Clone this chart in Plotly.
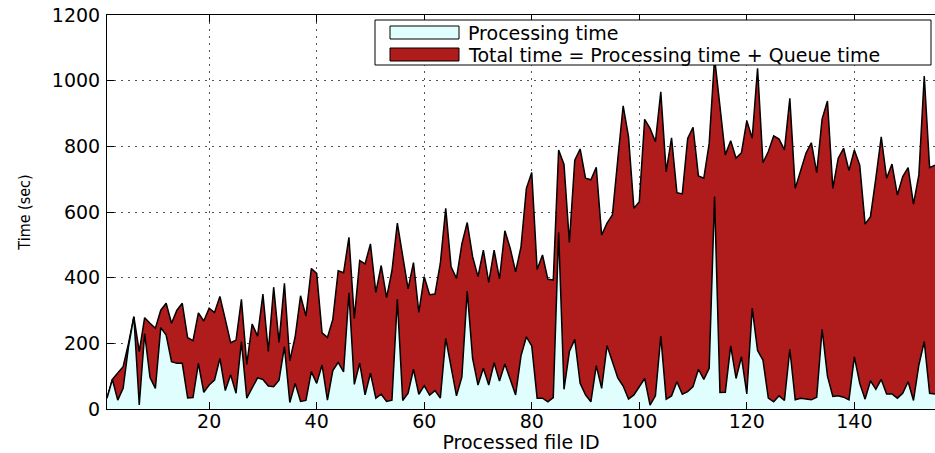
import plotly.graph_objects as go

# ---------------- data ----------------
file_id = list(range(1, 156))

total_time = [
    33, 90, 110, 129, 200, 281, 175, 278, 261, 246,
    301, 322, 261, 301, 322, 217, 208, 293, 268, 307,
    294, 343, 273, 202, 210, 334, 136, 259, 222, 350,
    175, 371, 203, 383, 147, 220, 345, 283, 428, 413,
    232, 218, 273, 421, 415, 523, 276, 452, 442, 503,
    355, 437, 339, 421, 566, 466, 366, 446, 294, 403,
    348, 350, 444, 611, 433, 398, 503, 568, 464, 403,
    484, 386, 484, 396, 543, 489, 418, 494, 672, 720,
    425, 469, 395, 393, 789, 745, 507, 758, 792, 703,
    698, 736, 530, 566, 591, 760, 923, 829, 611, 631,
    882, 855, 814, 966, 723, 826, 659, 655, 824, 858,
    710, 703, 809, 1070, 920, 774, 817, 764, 780, 878,
    825, 1038, 750, 784, 832, 822, 789, 946, 672, 723,
    779, 811, 720, 883, 938, 672, 764, 794, 726, 789,
    743, 563, 586, 703, 829, 703, 746, 652, 708, 735,
    624, 713, 1014, 735, 743,
]

processing_time = [
    33, 90, 27, 63, 190, 281, 12, 230, 96, 63,
    248, 225, 144, 139, 139, 34, 35, 139, 51, 73,
    88, 154, 56, 104, 48, 205, 33, 63, 95, 90,
    70, 68, 88, 190, 20, 78, 23, 26, 114, 78,
    134, 27, 117, 142, 113, 354, 75, 140, 43, 109,
    33, 45, 23, 27, 334, 26, 48, 121, 45, 71,
    42, 56, 33, 215, 121, 40, 97, 359, 154, 73,
    124, 73, 141, 85, 137, 90, 43, 162, 220, 192,
    33, 33, 22, 35, 538, 60, 175, 212, 78, 43,
    22, 132, 63, 193, 144, 95, 70, 30, 43, 68,
    93, 12, 40, 222, 30, 40, 83, 45, 53, 68,
    121, 90, 124, 647, 50, 51, 192, 93, 159, 46,
    307, 178, 149, 33, 22, 40, 26, 182, 28, 33,
    30, 28, 36, 243, 100, 38, 40, 36, 28, 159,
    78, 30, 86, 60, 90, 46, 46, 33, 48, 83,
    26, 134, 205, 48, 46,
]

x_ticks = [20, 40, 60, 80, 100, 120, 140]
y_ticks = [0, 200, 400, 600, 800, 1000, 1200]

legend_labels = ["Processing time", "Total time = Processing time + Queue time"]

RED = "#B01B1B"
CYAN = "#E1FEFE"
FONT = "DejaVu Sans, Liberation Sans, Arial, sans-serif"
GRID_DASH = "1.5px,5.5px"

# ---------------- figure ----------------
fig = go.Figure()
fig.add_trace(go.Scatter(
    x=file_id, y=total_time, mode="lines", fill="tozeroy",
    fillcolor=RED, line=dict(color="black", width=1.5),
    showlegend=False, hoverinfo="skip",
))
fig.add_trace(go.Scatter(
    x=file_id, y=processing_time, mode="lines", fill="tozeroy",
    fillcolor=CYAN, line=dict(color="black", width=1.5),
    showlegend=False, hoverinfo="skip",
))

W, H = 935, 453
L, T, R, B = 107, 15, 0, 44
pw, ph = W - L - R, H - T - B


def px(xp):
    return (xp - L) / pw


def py(yp):
    return (H - B - yp) / ph


fig.update_layout(
    width=W, height=H,
    margin=dict(l=L, r=R, t=T, b=B, pad=0),
    paper_bgcolor="white", plot_bgcolor="white",
    font=dict(family=FONT, size=19, color="black"),
    showlegend=False,
    xaxis=dict(
        range=[1, 155], tickvals=x_ticks, ticks="inside", ticklen=7,
        tickcolor="black", showline=True, linecolor="black", linewidth=1,
        mirror="ticks", showgrid=True, gridcolor="#555555", griddash=GRID_DASH,
        gridwidth=1, zeroline=False, ticklabelstandoff=-5,
        tickfont=dict(family=FONT, size=19),
        title=dict(text="Processed file ID", font=dict(family=FONT, size=19), standoff=1),
        automargin=False,
    ),
    yaxis=dict(
        range=[0, 1200], tickvals=y_ticks, ticks="inside", ticklen=7,
        tickcolor="black", showline=True, linecolor="black", linewidth=1,
        mirror=False, showgrid=True, gridcolor="#555555", griddash=GRID_DASH,
        gridwidth=1, zeroline=False, ticklabelstandoff=2,
        tickfont=dict(family=FONT, size=19),
        title=dict(text="Time (sec)", standoff=17,
                   font=dict(family="Liberation Sans Narrow, DejaVu Sans Condensed, Liberation Sans, sans-serif", size=16)),
        automargin=False,
    ),
)

# custom MATLAB-style legend box
shapes = [
    dict(type="rect", xref="paper", yref="paper",
         x0=px(375), x1=px(931), y0=py(65), y1=py(20),
         fillcolor="white", line=dict(color="black", width=1), layer="above"),
    dict(type="rect", xref="paper", yref="paper",
         x0=px(390), x1=px(459), y0=py(39), y1=py(26),
         fillcolor=CYAN, line=dict(color="black", width=1), layer="above"),
    dict(type="rect", xref="paper", yref="paper",
         x0=px(390), x1=px(459), y0=py(61), y1=py(48),
         fillcolor=RED, line=dict(color="black", width=1), layer="above"),
]
annotations = [
    dict(text=legend_labels[0], xref="paper", yref="paper", x=px(466), y=py(32.5),
         xanchor="left", yanchor="middle", showarrow=False,
         font=dict(family=FONT, size=19, color="black")),
    dict(text=legend_labels[1], xref="paper", yref="paper", x=px(466), y=py(55),
         xanchor="left", yanchor="middle", showarrow=False,
         font=dict(family=FONT, size=19, color="black")),
]
fig.update_layout(shapes=shapes, annotations=annotations)

fig.write_html(
    "out.html",
    config={"displayModeBar": False, "staticPlot": True},
    post_script="document.body.style.margin='0';document.body.style.padding='0';"
                "document.body.style.overflow='hidden';",
)
